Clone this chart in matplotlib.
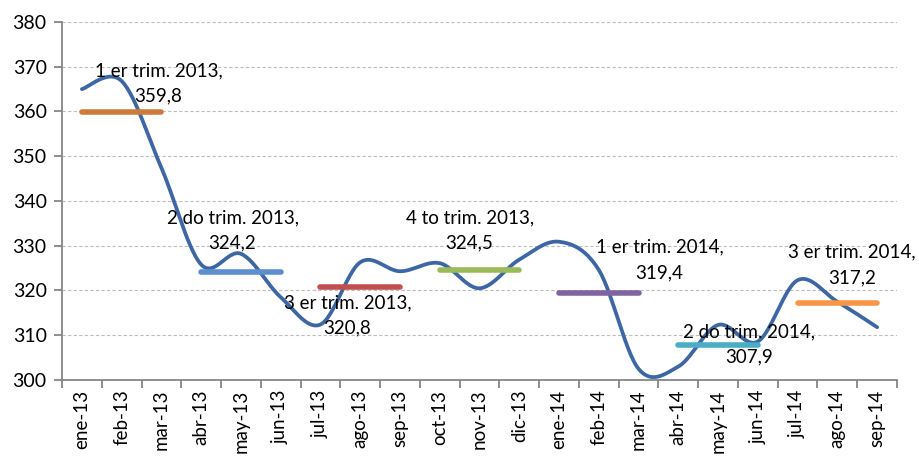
import numpy as np
import matplotlib
matplotlib.use("Agg")
import matplotlib.pyplot as plt

plt.rcParams['font.family'] = ['Lato', 'DejaVu Sans']

MONTHS = ["ene-13", "feb-13", "mar-13", "abr-13", "may-13", "jun-13", "jul-13",
          "ago-13", "sep-13", "oct-13", "nov-13", "dic-13", "ene-14", "feb-14",
          "mar-14", "abr-14", "may-14", "jun-14", "jul-14", "ago-14", "sep-14"]
VALUES = [365.0, 366.8, 347.4, 325.8, 328.2, 318.5, 312.4, 326.3, 324.3,
          326.1, 320.5, 326.9, 330.9, 324.6, 302.5, 303.0, 312.3, 308.6,
          322.3, 317.5, 311.8]

Q_LABELS = ["1 er trim. 2013,", "2 do trim. 2013,", "3 er trim. 2013,",
            "4 to trim. 2013,", "1 er trim. 2014,", "2 do trim. 2014,",
            "3 er trim. 2014,"]
Q_MEANS = [359.8, 324.2, 320.8, 324.5, 319.4, 307.9, 317.2]
Q_START = [0, 3, 6, 9, 12, 15, 18]
Q_COLORS = ["#CD7B3A", "#5B8FD0", "#C0504D", "#9BBB59", "#8064A2", "#4BACC6", "#F79646"]
# label anchor (x in category units, y in data units)
Q_LABEL_POS = [(1.93, 366.3), (3.79, 333.5), (6.68, 314.5), (9.75, 333.5),
               (14.53, 326.8), (16.77, 307.9), (19.36, 325.7)]


def smooth(x, y, n=30):
    # Excel-style smoothed line (Catmull-Rom as cubic Bezier)
    x = np.asarray(x, float); y = np.asarray(y, float)
    px = np.concatenate([[x[0]], x, [x[-1]]])
    py = np.concatenate([[y[0]], y, [y[-1]]])
    t = np.linspace(0, 1, n)[:, None]
    out_x, out_y = [], []
    for i in range(1, len(px) - 2):
        p0 = np.array([px[i], py[i]])
        p3 = np.array([px[i + 1], py[i + 1]])
        p1 = p0 + (p3 - np.array([px[i - 1], py[i - 1]])) / 6
        p2 = p3 - (np.array([px[i + 2], py[i + 2]]) - p0) / 6
        b = ((1 - t) ** 3) * p0 + 3 * ((1 - t) ** 2) * t * p1 + 3 * (1 - t) * t ** 2 * p2 + t ** 3 * p3
        out_x.append(b[:, 0]); out_y.append(b[:, 1])
    return np.concatenate(out_x), np.concatenate(out_y)


fig = plt.figure(figsize=(9.2, 4.58), dpi=100)
ax = fig.add_axes([0.0674, 0.1703, 0.9076, 0.7817])

xs = np.arange(len(MONTHS))
sx, sy = smooth(xs, VALUES)
ax.plot(sx, sy, color="#3C67A3", lw=2.7, solid_capstyle="round", zorder=3)

for lab, m, s, c, (lx, ly) in zip(Q_LABELS, Q_MEANS, Q_START, Q_COLORS, Q_LABEL_POS):
    ax.plot([s, s + 2], [m, m], color=c, lw=4, solid_capstyle="round", zorder=4)
    val = ("%.1f" % m).replace(".", ",")
    ax.text(lx, ly, lab + "\n" + val, ha="center", va="center", fontsize=13.5,
            linespacing=1.6, color="black", zorder=5)

ax.set_xlim(-0.5, len(MONTHS) - 0.5)
ax.set_ylim(300, 380)
ax.set_yticks(range(300, 381, 10))
ax.set_xticks(xs)
ax.set_xticklabels(MONTHS, rotation=90, fontsize=13.5)
ax.set_xticks(np.arange(-0.5, len(MONTHS)), minor=True)
ax.tick_params(axis="x", which="major", length=0, pad=7)
ax.tick_params(axis="x", which="minor", length=6, width=1.3, color="#868686")
ax.tick_params(axis="y", length=6, width=1.3, color="#868686", labelsize=14, pad=5)

for v in range(310, 381, 10):
    ax.axhline(v, color="#BDBDBD", lw=0.8, ls=(0, (3, 2)), zorder=1)

for sp in ["top", "right"]:
    ax.spines[sp].set_visible(False)
for sp in ["left", "bottom"]:
    ax.spines[sp].set_color("#868686")
    ax.spines[sp].set_linewidth(1.3)

fig.savefig("out.png", dpi=100)
